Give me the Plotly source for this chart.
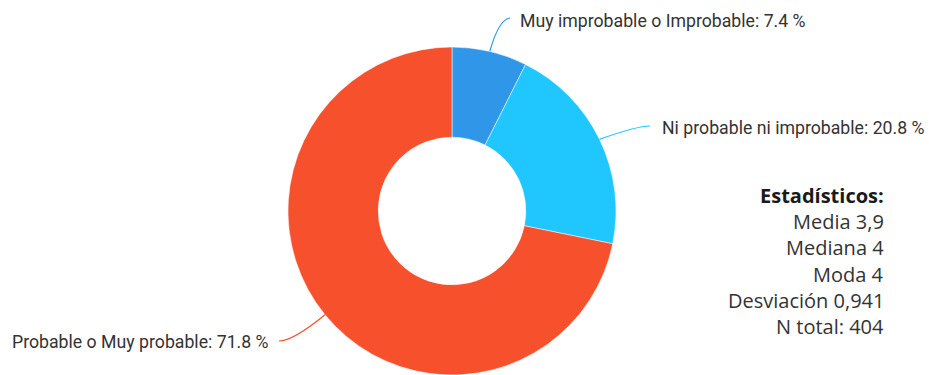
import math
import plotly.graph_objects as go

# ---- data ----
categories = ["Muy improbable o Improbable", "Ni probable ni improbable", "Probable o Muy probable"]
values = [7.4, 20.8, 71.8]
colors = ["#3096E8", "#20C7FE", "#F6502D"]
stats_title = "Estadísticos:"
stats_lines = ["Media 3,9", "Mediana 4", "Moda 4", "Desviación 0,941", "N total: 404"]

W, H = 929, 375
# pie geometry (pixels)
CX, CY, R = 452, 211, 164
HOLE = 0.45

def px(x):
    return x / W

def py(y):
    return 1 - y / H

fig = go.Figure()
fig.add_trace(go.Pie(
    labels=categories, values=values, sort=False, direction="clockwise", rotation=0,
    hole=HOLE, textinfo="none", hoverinfo="label+percent",
    marker=dict(colors=colors, line=dict(color="white", width=0.5)),
    domain=dict(x=[px(CX - R), px(CX + R)], y=[py(CY + R), py(CY - R)]),
    showlegend=False,
))

# label layout (pixel positions of label anchors and leader lines end points)
label_pos = [
    dict(x=518, y=21, xanchor="left", end=(510, 18), ctrl=(499, 19)),
    dict(x=660, y=128, xanchor="left", end=(650, 126), ctrl=(637, 126)),
    dict(x=271, y=342, xanchor="right", end=(279, 341), ctrl=(293, 341)),
]

total = sum(values)
cum = 0
annotations = []
shapes = []
for cat, val, col, lp in zip(categories, values, colors, label_pos):
    mid = (cum + val / 2) / total * 2 * math.pi
    cum += val
    sx = CX + R * math.sin(mid)
    sy = CY - R * math.cos(mid)
    ex, ey = lp["end"]
    cx_, cy_ = lp["ctrl"]
    shapes.append(dict(
        type="path", xref="paper", yref="paper",
        path=f"M {px(sx)} {py(sy)} Q {px(cx_)} {py(cy_)} {px(ex)} {py(ey)}",
        line=dict(color=col, width=1.2),
    ))
    pct = val / total * 100
    annotations.append(dict(
        x=px(lp["x"]), y=py(lp["y"]), xref="paper", yref="paper",
        xanchor=lp["xanchor"], yanchor="middle", showarrow=False,
        text=f"{cat}: {pct:.1f} %",
        font=dict(family="Roboto", size=17.7, color="#333333"),
    ))

# statistics block
stats_right = 886
annotations.append(dict(
    x=px(stats_right), y=py(195), xref="paper", yref="paper",
    xanchor="right", yanchor="middle", showarrow=False,
    text=f"<b>{stats_title}</b>",
    font=dict(family="Open Sans", size=20, color="#1a1a1a"),
))
for i, line in enumerate(stats_lines):
    annotations.append(dict(
        x=px(stats_right), y=py(221.5 + i * 26.3), xref="paper", yref="paper",
        xanchor="right", yanchor="middle", showarrow=False,
        text=line,
        font=dict(family="Open Sans", size=20, color="#333333"),
    ))

fig.update_layout(
    width=W, height=H,
    margin=dict(l=0, r=0, t=0, b=0),
    paper_bgcolor="white", plot_bgcolor="white",
    annotations=annotations, shapes=shapes,
)

fig.write_html("out.html")
